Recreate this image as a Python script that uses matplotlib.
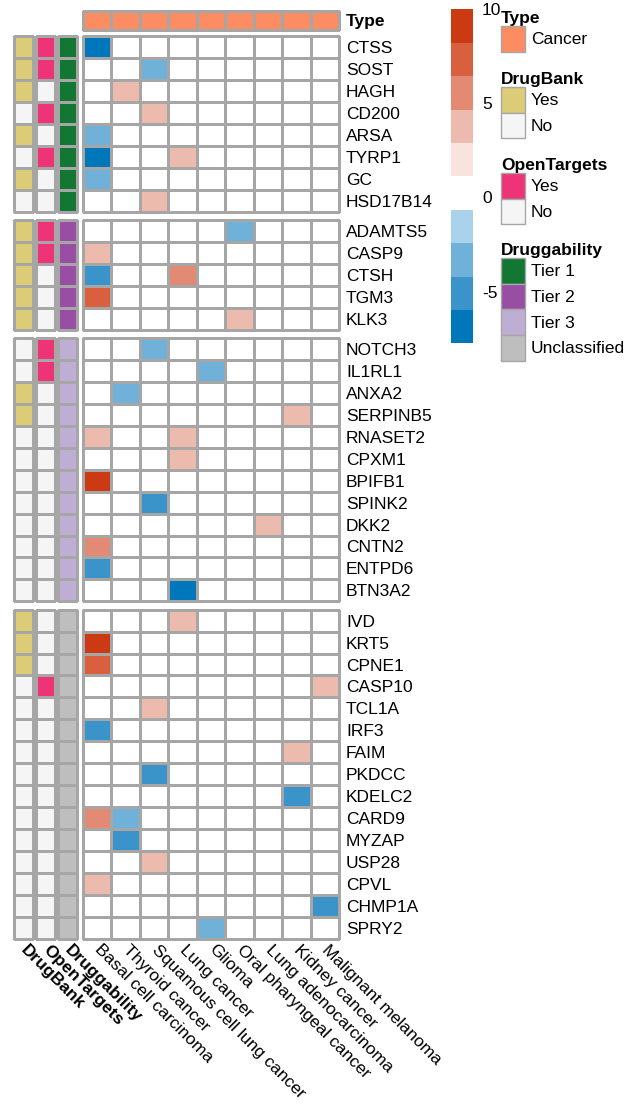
import matplotlib.pyplot as plt
import numpy as np
from matplotlib.cm import ScalarMappable
from matplotlib.colors import BoundaryNorm, ListedColormap
from matplotlib.patches import Patch

plt.rcParams["font.family"] = ["Liberation Sans", "DejaVu Sans"]
plt.rcParams["axes.unicode_minus"] = False

W, H = 642, 1107
FS = 12.5
GRID = "#A6A6A6"
LW = 1.0

CANCERS = [
    "Basal cell carcinoma", "Thyroid cancer", "Squamous cell lung cancer",
    "Lung cancer", "Glioma", "Oral pharyngeal cancer", "Lung adenocarcinoma",
    "Kidney cancer", "Malignant melanoma",
]

GENES = [
    "CTSS", "SOST", "HAGH", "CD200", "ARSA", "TYRP1", "GC", "HSD17B14",
    "ADAMTS5", "CASP9", "CTSH", "TGM3", "KLK3",
    "NOTCH3", "IL1RL1", "ANXA2", "SERPINB5", "RNASET2", "CPXM1", "BPIFB1",
    "SPINK2", "DKK2", "CNTN2", "ENTPD6", "BTN3A2",
    "IVD", "KRT5", "CPNE1", "CASP10", "TCL1A", "IRF3", "FAIM", "PKDCC",
    "KDELC2", "CARD9", "MYZAP", "USP28", "CPVL", "CHMP1A", "SPRY2",
]
TIERS = ["Tier 1"] * 8 + ["Tier 2"] * 5 + ["Tier 3"] * 12 + ["Unclassified"] * 15
DRUGBANK = [
    "Yes", "Yes", "Yes", "No", "Yes", "No", "Yes", "No",
    "Yes", "Yes", "Yes", "Yes", "Yes",
    "No", "No", "Yes", "Yes", "No", "No", "No", "No", "No", "No", "No", "No",
    "Yes", "Yes", "Yes", "No", "No", "No", "No", "No", "No", "No", "No", "No", "No", "No", "No",
]
OPENTARGETS = [
    "Yes", "Yes", "No", "Yes", "No", "Yes", "No", "No",
    "Yes", "Yes", "No", "No", "No",
    "Yes", "Yes", "No", "No", "No", "No", "No", "No", "No", "No", "No", "No",
    "No", "No", "No", "Yes", "No", "No", "No", "No", "No", "No", "No", "No", "No", "No", "No",
]

n = np.nan
SCORES = [
    [-7, n, n, n, n, n, n, n, n],      # CTSS
    [n, n, -3, n, n, n, n, n, n],      # SOST
    [n, 3.5, n, n, n, n, n, n, n],     # HAGH
    [n, n, 3.5, n, n, n, n, n, n],     # CD200
    [-3, n, n, n, n, n, n, n, n],      # ARSA
    [-7, n, n, 3.5, n, n, n, n, n],    # TYRP1
    [-3, n, n, n, n, n, n, n, n],      # GC
    [n, n, 3.5, n, n, n, n, n, n],     # HSD17B14
    [n, n, n, n, n, -3, n, n, n],      # ADAMTS5
    [3.5, n, n, n, n, n, n, n, n],     # CASP9
    [-5, n, n, 5.5, n, n, n, n, n],    # CTSH
    [7.5, n, n, n, n, n, n, n, n],     # TGM3
    [n, n, n, n, n, 3.5, n, n, n],     # KLK3
    [n, n, -3, n, n, n, n, n, n],      # NOTCH3
    [n, n, n, n, -3, n, n, n, n],      # IL1RL1
    [n, -3, n, n, n, n, n, n, n],      # ANXA2
    [n, n, n, n, n, n, n, 3.5, n],     # SERPINB5
    [3.5, n, n, 3.5, n, n, n, n, n],   # RNASET2
    [n, n, n, 3.5, n, n, n, n, n],     # CPXM1
    [9, n, n, n, n, n, n, n, n],       # BPIFB1
    [n, n, -5, n, n, n, n, n, n],      # SPINK2
    [n, n, n, n, n, n, 3.5, n, n],     # DKK2
    [5.5, n, n, n, n, n, n, n, n],     # CNTN2
    [-5, n, n, n, n, n, n, n, n],      # ENTPD6
    [n, n, n, -7, n, n, n, n, n],      # BTN3A2
    [n, n, n, 3.5, n, n, n, n, n],     # IVD
    [9, n, n, n, n, n, n, n, n],       # KRT5
    [7.5, n, n, n, n, n, n, n, n],     # CPNE1
    [n, n, n, n, n, n, n, n, 3.5],     # CASP10
    [n, n, 3.5, n, n, n, n, n, n],     # TCL1A
    [-5, n, n, n, n, n, n, n, n],      # IRF3
    [n, n, n, n, n, n, n, 3.5, n],     # FAIM
    [n, n, -5, n, n, n, n, n, n],      # PKDCC
    [n, n, n, n, n, n, n, -5, n],      # KDELC2
    [5.5, -3, n, n, n, n, n, n, n],    # CARD9
    [n, -5, n, n, n, n, n, n, n],      # MYZAP
    [n, n, 3.5, n, n, n, n, n, n],     # USP28
    [3.5, n, n, n, n, n, n, n, n],     # CPVL
    [n, n, n, n, n, n, n, n, -5],      # CHMP1A
    [n, n, n, n, -3, n, n, n, n],      # SPRY2
]

SCORE_BOUNDS = [-7.75, -5.975, -4.2, -2.425, -0.65, 1.125, 2.9, 4.675, 6.45, 8.225, 10]
SCORE_COLORS = ["#0077BB", "#3A93C9", "#6FB1D9", "#AAD2EA", "#FFFFFF",
                "#F9E3DE", "#EDBBAD", "#E38A75", "#D9603F", "#CC3A13"]
SCORE_TICKS = [10, 5, 0, -5]

TYPE_COLOR = "#FC8D62"
YES_NO = ["Yes", "No"]
DRUGBANK_COLORS = ["#DDCC77", "#F5F5F5"]
OPENTARGETS_COLORS = ["#EE3377", "#F5F5F5"]
TIER_ORDER = ["Tier 1", "Tier 2", "Tier 3", "Unclassified"]
TIER_COLORS = ["#117733", "#984EA3", "#BEAED4", "#BEBEBE"]


fig = plt.figure(figsize=(W / 100, H / 100), dpi=100)


def px_axes(x0, y0, x1, y1):
    ax = fig.add_axes([x0 / W, 1 - y1 / H, (x1 - x0) / W, (y1 - y0) / H])
    for spine in ax.spines.values():
        spine.set_visible(False)
    ax.tick_params(length=0, labelsize=FS)
    return ax


def mesh(ax, values, cmap, norm):
    m = ax.pcolormesh(values, cmap=cmap, norm=norm, edgecolors=GRID, linewidth=LW)
    m.set_clip_on(False)
    ax.set_xlim(0, values.shape[1])
    ax.set_ylim(values.shape[0], 0)
    ax.set_xticks([])
    ax.set_yticks([])


scores = np.array(SCORES, dtype=float)
score_cmap = ListedColormap(SCORE_COLORS)
score_cmap.set_bad("white")
score_norm = BoundaryNorm(SCORE_BOUNDS, score_cmap.N)

annotations = [
    ("DrugBank", [YES_NO.index(v) for v in DRUGBANK], DRUGBANK_COLORS, 14),
    ("OpenTargets", [YES_NO.index(v) for v in OPENTARGETS], OPENTARGETS_COLORS, 36),
    ("Druggability", [TIER_ORDER.index(v) for v in TIERS], TIER_COLORS, 58),
]

HM_X0, HM_X1 = 83, 339
ROW_H, GAP = 21.95, 8.3
label_kw = dict(rotation=-45, ha="left", va="center", rotation_mode="anchor")

# column annotation
ax_type = px_axes(HM_X0, 10.5, HM_X1, 29.5)
mesh(ax_type, np.zeros((1, len(CANCERS))), ListedColormap([TYPE_COLOR]), None)
ax_type.yaxis.tick_right()
ax_type.set_yticks([0.5], ["Type"], fontweight="bold")
ax_type.tick_params(axis="y", pad=5)

top = 36
for k, tier in enumerate(TIER_ORDER):
    idx = [i for i, t in enumerate(TIERS) if t == tier]
    bottom = top + len(idx) * ROW_H
    last = k == len(TIER_ORDER) - 1

    ax = px_axes(HM_X0, top, HM_X1, bottom)
    mesh(ax, scores[idx], score_cmap, score_norm)
    ax.yaxis.tick_right()
    ax.set_yticks(np.arange(len(idx)) + 0.5, [GENES[i] for i in idx])
    ax.tick_params(axis="y", pad=5)
    if last:
        ax.set_xticks(np.arange(len(CANCERS)) + 0.5, CANCERS, **label_kw)
        ax.tick_params(axis="x", pad=6)

    for name, codes, colors, x0 in annotations:
        ax_a = px_axes(x0, top, x0 + 18.5, bottom)
        cmap = ListedColormap(colors)
        norm = BoundaryNorm(np.arange(len(colors) + 1) - 0.5, len(colors))
        mesh(ax_a, np.array(codes, dtype=float)[idx].reshape(-1, 1), cmap, norm)
        if last:
            ax_a.set_xticks([0.5], [name], fontweight="bold", **label_kw)
            ax_a.tick_params(axis="x", pad=6)

    top = bottom + GAP

# colour bar
cax = px_axes(451, 9.3, 473, 343.3)
cb = fig.colorbar(ScalarMappable(norm=score_norm, cmap=score_cmap), cax=cax, ticks=SCORE_TICKS)
cb.outline.set_visible(False)
cb.minorticks_off()
cax.tick_params(which="both", length=0, width=0, labelsize=FS, pad=6.5)


def add_legend(title, labels, colors, y):
    handles = [Patch(facecolor=c, edgecolor=GRID, linewidth=LW) for c in colors]
    fig.legend(
        handles, labels, title=title, loc="upper left",
        bbox_to_anchor=(501 / W, 1 - y / H), frameon=False, fontsize=FS,
        title_fontproperties={"weight": "bold", "size": FS}, alignment="left",
        handlelength=1.38, handleheight=1.9, handletextpad=0.35,
        labelspacing=0, borderpad=0, borderaxespad=0,
    )


add_legend("Type", ["Cancer"], [TYPE_COLOR], 11)
add_legend("DrugBank", YES_NO, DRUGBANK_COLORS, 72)
add_legend("OpenTargets", YES_NO, OPENTARGETS_COLORS, 158)
add_legend("Druggability", TIER_ORDER, TIER_COLORS, 243)

fig.savefig("out.png", dpi=100)
